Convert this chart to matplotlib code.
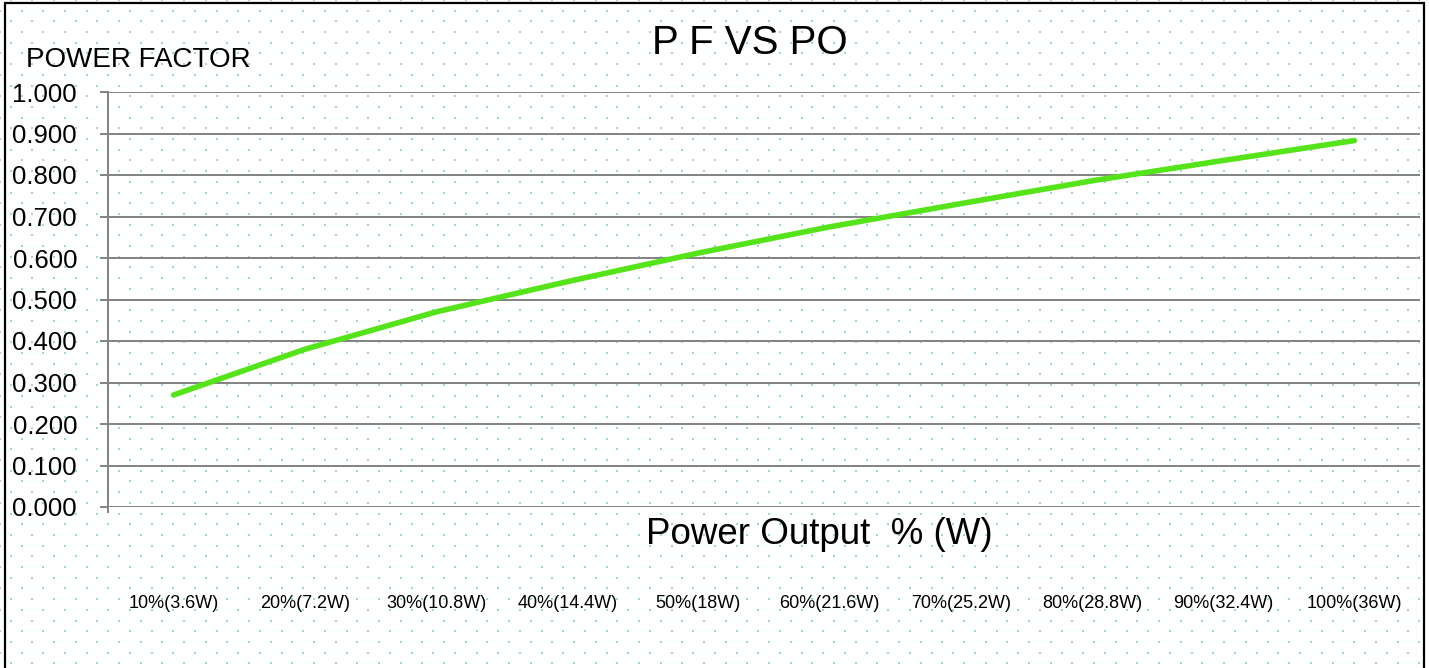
import numpy as np
import matplotlib
matplotlib.use("Agg")
import matplotlib.pyplot as plt
from matplotlib.patches import Rectangle
from matplotlib.transforms import blended_transform_factory

plt.rcParams["font.family"] = ["Liberation Sans", "DejaVu Sans"]

# ======================================
# DATA
# ======================================

categories = ["10%(3.6W)", "20%(7.2W)", "30%(10.8W)", "40%(14.4W)", "50%(18W)",
              "60%(21.6W)", "70%(25.2W)", "80%(28.8W)", "90%(32.4W)", "100%(36W)"]
power_factor = [0.270, 0.380, 0.470, 0.543, 0.612, 0.675, 0.731, 0.786, 0.835, 0.883]
y_ticks = [0.0, 0.1, 0.2, 0.3, 0.4, 0.5, 0.6, 0.7, 0.8, 0.9, 1.0]

W, H = 1429, 668
grid_color = "#828282"

fig = plt.figure(figsize=(W / 100, H / 100), dpi=100)

# ======================================
# DOTTED BACKGROUND + BORDER
# ======================================

bg = fig.add_axes([0, 0, 1, 1])
bg.set_xlim(0, W)
bg.set_ylim(H, 0)
bg.axis("off")

dx, dy = 21.67, 10.7
xs, ys = [], []
for k, yy in enumerate(np.arange(342.3 - dy * 32, H + dy, dy)):
    x0 = 119.0 if (k % 2 == 0) else 108.3
    row = np.arange(x0 - dx * 6, W, dx)
    xs.extend(row)
    ys.extend([yy] * len(row))
bg.scatter(xs, ys, s=3.6, marker="s", color="#9fd5da", linewidths=0, zorder=0)

fig.patches.append(Rectangle((5 / W, -0.05), (1424 - 5) / W, 1.05 - 3.5 / H,
                             transform=fig.transFigure, fill=False,
                             edgecolor="black", linewidth=1.6))

# ======================================
# MAIN AXES
# ======================================

ax = fig.add_axes([108 / W, (H - 507) / H, (1420 - 108) / W, 415 / H])
ax.patch.set_alpha(0)

x = np.arange(len(categories))
ax.plot(x, power_factor, color="#55e41a", linewidth=4.0,
        solid_capstyle="round", solid_joinstyle="round", zorder=3)

ax.set_xlim(-0.5, len(categories) - 0.5)
ax.set_ylim(0, 1.0)

ax.set_yticks(y_ticks)
ax.set_yticklabels([f"{v:.3f}" for v in y_ticks], fontsize=18.5)
ax.yaxis.grid(True, color=grid_color, linewidth=1.4)
ax.tick_params(axis="y", direction="out", length=5.8, width=1.4,
               color=grid_color, pad=16.5)

ax.set_xticks([])
tr = blended_transform_factory(ax.transData, fig.transFigure)
for i, lab in enumerate(categories):
    ax.text(i, (H - 608) / H, lab, transform=tr, ha="center",
            va="baseline", fontsize=13)

for s in ["top", "right", "bottom"]:
    ax.spines[s].set_visible(False)
ax.spines["left"].set_color(grid_color)
ax.spines["left"].set_linewidth(1.4)
ax.spines["left"].set_bounds(-0.012, 1.0)

# ======================================
# TEXTS
# ======================================

fig.text(750 / W, 1 - 43 / H, "P F VS PO", ha="center", va="center", fontsize=29)
fig.text(26 / W, 1 - 67 / H, "POWER FACTOR", ha="left", va="baseline", fontsize=20)
fig.text(819 / W, 1 - 544 / H, "Power Output  % (W)", ha="center",
         va="baseline", fontsize=26.5)

fig.savefig("out.png", dpi=100)
